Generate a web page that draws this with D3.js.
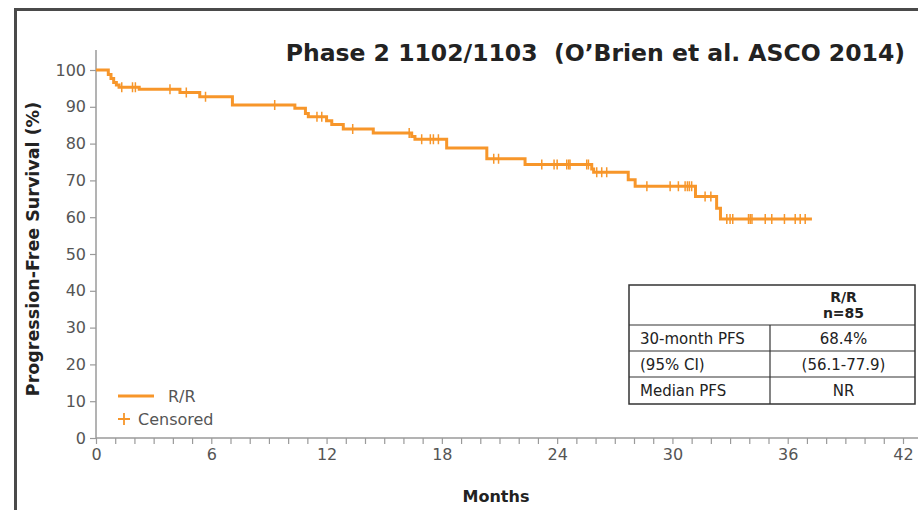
<!DOCTYPE html>
<html>
<head>
<meta charset="utf-8">
<script src="https://cdn.jsdelivr.net/npm/d3@7"></script>
<style>
  html, body { margin: 0; padding: 0; background: #fff; }
  svg { display: block; }
</style>
</head>
<body>
<svg id="chart" width="918" height="510"></svg>
<script>
// Kaplan-Meier progression-free survival, R/R cohort
const eventTimes   = [0, 0.64, 0.78, 0.92, 1.06, 1.2, 2.25, 4.37, 5.4, 7.1, 10.35, 10.9, 11.05, 12.0, 12.27, 12.87, 14.43, 16.43, 16.6, 18.25, 20.34, 22.33, 25.8, 25.9, 27.7, 28.06, 31.2, 32.3, 32.5];
const survivalPct  = [100, 98.8, 97.7, 96.6, 95.9, 95.3, 94.8, 93.9, 92.7, 90.5, 89.6, 88.2, 87.3, 86.2, 85.2, 84.0, 82.9, 81.9, 81.2, 78.8, 75.9, 74.3, 73.1, 72.2, 70.2, 68.4, 65.6, 62.4, 59.5];
const lastFollowUp = 37.26;
const censorTimes  = [1.34, 1.9, 2.05, 3.85, 4.7, 5.7, 9.3, 11.5, 11.75, 13.36, 16.3, 16.95, 17.4, 17.56, 17.82, 20.7, 20.95, 23.2, 23.84, 24.0, 24.5, 24.6, 24.67, 25.54, 25.63, 26.06, 26.32, 26.58, 28.67, 29.88, 30.31, 30.66, 30.78, 30.88, 31.0, 31.7, 32.0, 32.83, 33.0, 33.14, 33.96, 34.05, 34.14, 34.83, 35.17, 35.83, 36.39, 36.65, 36.91];

const xTicks = [0, 6, 12, 18, 24, 30, 36, 42];
const yTicks = [0, 10, 20, 30, 40, 50, 60, 70, 80, 90, 100];

const tableHeader = ["R/R", "n=85"];
const tableRows = [
  ["30-month PFS", "68.4%"],
  ["(95% CI)", "(56.1-77.9)"],
  ["Median PFS", "NR"]
];

const titleText = "Phase 2 1102/1103  (O\u2019Brien et al. ASCO 2014)";
const orange = "#f7962a";
const font = "'DejaVu Sans', 'Noto Sans', sans-serif";

const svg = d3.select("#chart");

// outer frame (top and left rules)
svg.append("path")
  .attr("d", "M15.5,510 V9.5 H918")
  .attr("fill", "none").attr("stroke", "#4a4a4a").attr("stroke-width", 3);

const x = d3.scaleLinear().domain([0, 42]).range([96, 903]);
const y = d3.scaleLinear().domain([0, 100]).range([438, 70]);

// y axis
const yAxis = svg.append("g").attr("transform", "translate(96,0)")
  .call(d3.axisLeft(y).tickValues(yTicks).tickSize(6).tickPadding(4));
yAxis.select(".domain").remove();
yAxis.append("line").attr("x1", 0).attr("x2", 0).attr("y1", 50).attr("y2", 438)
  .attr("stroke", "#9a9a9a").attr("stroke-width", 1.5);

// x axis with monthly minor ticks
const xAxis = svg.append("g").attr("transform", "translate(0,438)")
  .call(d3.axisBottom(x).tickValues(d3.range(0, 43, 1)).tickSize(6).tickPadding(5)
    .tickFormat(d => xTicks.includes(d) ? d : ""));
xAxis.select(".domain").remove();
xAxis.append("line").attr("x1", 96).attr("x2", 918).attr("y1", 0).attr("y2", 0)
  .attr("stroke", "#9a9a9a").attr("stroke-width", 1.5);

svg.selectAll(".tick line").attr("stroke", "#9a9a9a").attr("stroke-width", 1.2);
svg.selectAll(".tick text")
  .attr("font-family", font).attr("font-size", 16).attr("fill", "#555");

// axis titles
svg.append("text")
  .attr("transform", "translate(39,249) rotate(-90)")
  .attr("text-anchor", "middle")
  .attr("font-family", font).attr("font-weight", 700).attr("font-size", 17.5)
  .attr("fill", "#222").text("Progression-Free Survival (%)");

svg.append("text")
  .attr("x", 496).attr("y", 502).attr("text-anchor", "middle")
  .attr("font-family", font).attr("font-weight", 700).attr("font-size", 16)
  .attr("fill", "#222").text("Months");

// title
svg.append("text")
  .attr("x", 905).attr("y", 61).attr("text-anchor", "end")
  .attr("xml:space", "preserve").style("white-space", "pre")
  .attr("font-family", font).attr("font-weight", 700).attr("font-size", 23.5)
  .attr("fill", "#222").text(titleText);

// survival step curve
const pts = eventTimes.map((t, i) => [t, survivalPct[i]]);
pts.push([lastFollowUp, survivalPct[survivalPct.length - 1]]);
const line = d3.line().x(d => x(d[0])).y(d => y(d[1])).curve(d3.curveStepAfter);
svg.append("path").datum(pts)
  .attr("d", line)
  .attr("fill", "none").attr("stroke", orange).attr("stroke-width", 3);

// survival value at a given time (step function)
function survivalAt(t) {
  let s = survivalPct[0];
  for (let i = 0; i < eventTimes.length; i++) if (eventTimes[i] <= t) s = survivalPct[i];
  return s;
}

// censor marks
svg.append("g").selectAll("path").data(censorTimes).join("path")
  .attr("d", t => {
    const cx = x(t), cy = y(survivalAt(t));
    return `M${cx},${cy - 5}V${cy + 5}M${cx - 3},${cy}H${cx + 3}`;
  })
  .attr("stroke", orange).attr("stroke-width", 1.5).attr("fill", "none");

// legend
svg.append("line").attr("x1", 118).attr("x2", 154).attr("y1", 396).attr("y2", 396)
  .attr("stroke", orange).attr("stroke-width", 3);
svg.append("text").attr("x", 168).attr("y", 402)
  .attr("font-family", font).attr("font-size", 16).attr("fill", "#555").text("R/R");
svg.append("path").attr("d", "M124,413V425M118,419H130")
  .attr("stroke", orange).attr("stroke-width", 1.8);
svg.append("text").attr("x", 138).attr("y", 425)
  .attr("font-family", font).attr("font-size", 16).attr("fill", "#555").text("Censored");

// summary table
const tbl = svg.append("g");
const tL = 629, tR = 915, tDiv = 770;
const rowY = [285, 325, 351, 377, 404];
tbl.append("rect").attr("x", tL).attr("y", rowY[0]).attr("width", tR - tL).attr("height", rowY[4] - rowY[0])
  .attr("fill", "#fff").attr("stroke", "#333").attr("stroke-width", 1.5);
rowY.slice(1, 4).forEach(ry => tbl.append("line").attr("x1", tL).attr("x2", tR).attr("y1", ry).attr("y2", ry)
  .attr("stroke", "#333").attr("stroke-width", 1.2));
tbl.append("line").attr("x1", tDiv).attr("x2", tDiv).attr("y1", rowY[1]).attr("y2", rowY[4])
  .attr("stroke", "#333").attr("stroke-width", 1.2);
const colC = (tDiv + tR) / 2 + 1;
tableHeader.forEach((h, i) => tbl.append("text")
  .attr("x", colC).attr("y", 302 + i * 16).attr("text-anchor", "middle")
  .attr("font-family", font).attr("font-weight", 700).attr("font-size", 14).attr("fill", "#222").text(h));
tableRows.forEach((r, i) => {
  const by = rowY[i + 1] + 18.5;
  tbl.append("text").attr("x", 640).attr("y", by)
    .attr("font-family", font).attr("font-size", 15).attr("fill", "#222").text(r[0]);
  tbl.append("text").attr("x", colC).attr("y", by).attr("text-anchor", "middle")
    .attr("font-family", font).attr("font-size", 15).attr("fill", "#222").text(r[1]);
});
</script>
</body>
</html>
